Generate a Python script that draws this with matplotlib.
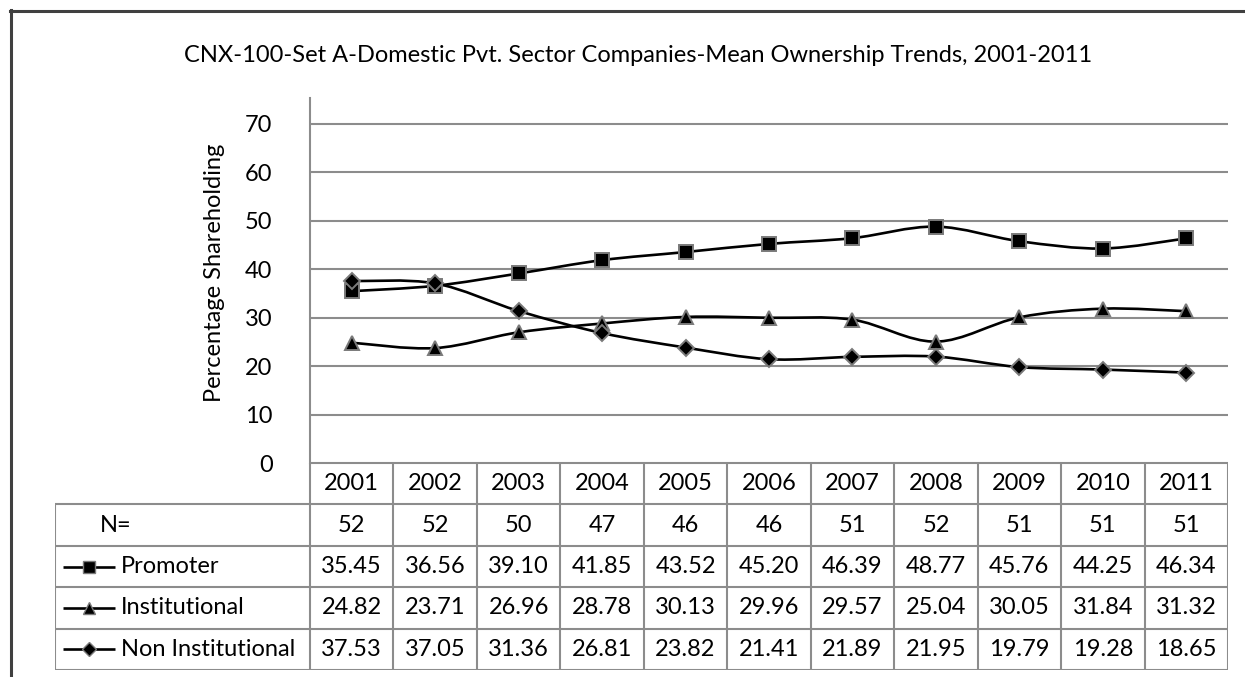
import numpy as np
import matplotlib
matplotlib.use("Agg")
import matplotlib.pyplot as plt
from matplotlib.path import Path
from matplotlib.patches import PathPatch
from matplotlib.lines import Line2D

plt.rcParams['font.family'] = ['Lato', 'DejaVu Sans']

years = ['2001', '2002', '2003', '2004', '2005', '2006', '2007', '2008', '2009', '2010', '2011']
n_firms = [52, 52, 50, 47, 46, 46, 51, 52, 51, 51, 51]
promoter = [35.45, 36.56, 39.10, 41.85, 43.52, 45.20, 46.39, 48.77, 45.76, 44.25, 46.34]
institutional = [24.82, 23.71, 26.96, 28.78, 30.13, 29.96, 29.57, 25.04, 30.05, 31.84, 31.32]
non_institutional = [37.53, 37.05, 31.36, 26.81, 23.82, 21.41, 21.89, 21.95, 19.79, 19.28, 18.65]
series = [('Promoter', promoter, 's'),
          ('Institutional', institutional, '^'),
          ('Non Institutional', non_institutional, 'D')]

W, H = 1245, 677
GRID = '#8c8c8c'
FS = 17
fig = plt.figure(figsize=(W / 100, H / 100), dpi=100)

# pixel layout of the plot area
x0, x1 = 310, 1228
ytop, ybot = 98, 463
ax = fig.add_axes([x0 / W, (H - ybot) / H, (x1 - x0) / W, (ybot - ytop) / H])
ax.set_xlim(0.5, len(years) + 0.5)
ax.set_ylim(0, 75.3)
ax.set_yticks(range(0, 80, 10))
ax.yaxis.grid(True, color=GRID, lw=1.5)
ax.set_axisbelow(True)
ax.set_xticks([])
for s in ['top', 'right', 'bottom']:
    ax.spines[s].set_visible(False)
ax.spines['left'].set_color(GRID)
ax.spines['left'].set_linewidth(1.5)
ax.tick_params(axis='y', length=0, labelsize=FS, pad=27)
ax.set_ylabel('Percentage Shareholding', fontsize=FS)
ax.yaxis.set_label_coords((225 - x0) / (x1 - x0), (ybot - 273) / (ybot - ytop))


def smooth_path(xs, ys):
    # Excel-like smoothed line: cubic Bezier segments through the data points
    pts = np.column_stack([xs, ys]).astype(float)
    verts = [pts[0]]
    codes = [Path.MOVETO]
    n = len(pts)
    for i in range(n - 1):
        p0 = pts[max(i - 1, 0)]
        p1 = pts[i]
        p2 = pts[i + 1]
        p3 = pts[min(i + 2, n - 1)]
        c1 = p1 + (p2 - p0) / 6.0
        c2 = p2 - (p3 - p1) / 6.0
        verts += [c1, c2, p2]
        codes += [Path.CURVE4] * 3
    return Path(verts, codes)


xs = np.arange(1, len(years) + 1)
msize = {'s': 9.5, '^': 10, 'D': 8}
for name, vals, mk in series:
    ax.add_patch(PathPatch(smooth_path(xs, vals), fill=False, edgecolor='black', lw=1.9,
                           zorder=3, clip_on=False))
    ax.plot(xs, vals, ls='none', marker=mk, ms=msize[mk], mfc='black', mec='#7a7a7a',
            mew=1.4, zorder=4, clip_on=False)

# data table below the plot
tab_left, tab_bot = 55, 670
colw = (x1 - x0) / len(years)
tax = fig.add_axes([tab_left / W, (H - tab_bot) / H, (x1 - tab_left) / W, (tab_bot - ybot) / H])
label_left = 0.5 - (x0 - tab_left) / colw
tax.set_xlim(label_left, len(years) + 0.5)
tax.set_ylim(5, 0)
tax.axis('off')


def px_x(p):
    return label_left + (p - tab_left) / colw


lkw = dict(color=GRID, lw=1.5, solid_capstyle='butt')
tax.plot([0.5, len(years) + 0.5], [0, 0], **lkw)
for r in range(1, 6):
    tax.plot([label_left, len(years) + 0.5], [r, r], **lkw)
for c in range(len(years) + 1):
    tax.plot([0.5 + c, 0.5 + c], [0, 5], **lkw)
tax.plot([label_left, label_left], [1, 5], **lkw)

for i, y in enumerate(years):
    tax.text(i + 1, 0.5, y, ha='center', va='center', fontsize=FS)
    tax.text(i + 1, 1.5, str(n_firms[i]), ha='center', va='center', fontsize=FS)
tax.text(px_x(100), 1.5, 'N=', ha='left', va='center', fontsize=FS)

key_l, key_r = px_x(63), px_x(115)
key_ms = {'s': 8.5, '^': 9, 'D': 7}
for r, (name, vals, mk) in enumerate(series):
    yy = 2.5 + r
    tax.plot([key_l, key_r], [yy, yy], color='black', lw=1.9, solid_capstyle='butt')
    tax.plot([(key_l + key_r) / 2], [yy], ls='none', marker=mk, ms=key_ms[mk], mfc='black',
             mec='#7a7a7a', mew=1.0)
    tax.text(px_x(121), yy, name, ha='left', va='center', fontsize=FS)
    for i, v in enumerate(vals):
        tax.text(i + 1, yy, f'{v:.2f}', ha='center', va='center', fontsize=FS)

fig.text(638 / W, (H - 55) / H, 'CNX-100-Set A-Domestic Pvt. Sector Companies-Mean Ownership Trends, 2001-2011',
         ha='center', va='center', fontsize=FS)

# outer chart border (top and left edges visible)
fig.add_artist(Line2D([10 / W, 1.0], [(H - 11) / H, (H - 11) / H], color='#404040', lw=2.2))
fig.add_artist(Line2D([11 / W, 11 / W], [0.0, (H - 10) / H], color='#404040', lw=2.2))

fig.savefig('out.png', dpi=100)
